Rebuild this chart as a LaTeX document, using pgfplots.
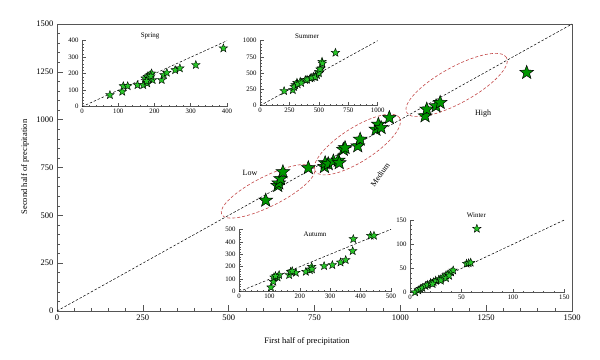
\documentclass[border=0pt]{standalone}
\usepackage{fontspec}
\setmainfont{Liberation Serif}
\usepackage{pgfplots}
\pgfplotsset{compat=1.18}
\definecolor{mainstar}{RGB}{0,150,0}
\definecolor{insetstar}{RGB}{40,200,40}
\definecolor{ell}{RGB}{195,70,70}
\definecolor{axgray}{RGB}{85,85,85}

\pgfdeclareplotmark{fstar}{%
  \pgfpathmoveto{\pgfpointpolar{90}{\pgfplotmarksize}}%
  \pgfpathlineto{\pgfpointpolar{126}{0.42\pgfplotmarksize}}%
  \pgfpathlineto{\pgfpointpolar{162}{\pgfplotmarksize}}%
  \pgfpathlineto{\pgfpointpolar{198}{0.42\pgfplotmarksize}}%
  \pgfpathlineto{\pgfpointpolar{234}{\pgfplotmarksize}}%
  \pgfpathlineto{\pgfpointpolar{270}{0.42\pgfplotmarksize}}%
  \pgfpathlineto{\pgfpointpolar{306}{\pgfplotmarksize}}%
  \pgfpathlineto{\pgfpointpolar{342}{0.42\pgfplotmarksize}}%
  \pgfpathlineto{\pgfpointpolar{18}{\pgfplotmarksize}}%
  \pgfpathlineto{\pgfpointpolar{54}{0.42\pgfplotmarksize}}%
  \pgfpathclose
  \pgfusepathqfillstroke}

\pgfplotsset{
  base/.style={scale only axis, anchor=south west, clip=false,
    /pgf/number format/assume math mode=true,
    /pgf/number format/set thousands separator={},
    axis line style={axgray, line width=0.6pt, -},
    tick style={axgray, line width=0.5pt},
    tick align=inside},
  inset/.style={base, axis x line*=bottom, axis y line*=left,
    ticklabel style={font=\fontsize{6.8}{7}\selectfont},
    xticklabel style={yshift=1pt},
    major tick length=4pt, minor tick length=2pt,
    minor tick num=4},
  istar/.style={only marks, mark=fstar, mark size=4.4pt,
    mark options={fill=insetstar, draw=black, line width=0.4pt}},
  diag/.style={black, dashed, dash pattern=on 2.5pt off 1.8pt, line width=0.5pt},
}
\tikzset{ellstyle/.style={draw=ell, dash pattern=on 3pt off 2pt, line width=0.6pt}}

\begin{document}
\begin{tikzpicture}[x=1pt,y=1pt]
\path[use as bounding box] (0,0) rectangle (600,359);

% main axis
\begin{axis}[base, at={(57pt,48pt)}, width=515pt, height=287pt,
  xmin=0, xmax=1500, ymin=0, ymax=1500,
  xtick={0,250,...,1500}, ytick={0,250,...,1500}, minor tick num=4,
  tick pos=left, major tick length=6pt, minor tick length=3pt,
  ticklabel style={font=\fontsize{8.5}{9}\selectfont}]
\addplot[diag] coordinates {(0,0) (1500,1500)};
\addplot[only marks, mark=fstar, mark size=7.2pt,
  mark options={fill=mainstar, draw=black, line width=0.5pt}] coordinates {
(608,578) (643,655) (646,668) (651,691) (658,727) (732,748)
(779,754) (781,774) (790,769) (805,783) (819,787) (822,774)
(834,844) (839,853) (876,862) (883,897) (929,949) (936,975)
(944,958) (968,1010) (1072,1019) (1077,1054) (1104,1071) (1116,1089)
(1368,1246)};
\draw[ellstyle, rotate around={26.6:(axis cs:615,626)}]
  (axis cs:615,626) ellipse [x radius=52pt, y radius=15pt];
\draw[ellstyle, rotate around={32.4:(axis cs:875,870)}]
  (axis cs:875,870) ellipse [x radius=50pt, y radius=17pt];
\draw[ellstyle, rotate around={28.8:(axis cs:1164,1181)}]
  (axis cs:1164,1181) ellipse [x radius=57pt, y radius=18pt];
\node[font=\fontsize{8}{9}\selectfont] at (axis cs:562,724) {Low};
\node[font=\fontsize{8}{9}\selectfont, rotate=55] at (axis cs:941,713) {Medium};
\node[font=\fontsize{8}{9}\selectfont] at (axis cs:1241,1033) {High};
\end{axis}

\node[font=\fontsize{8.5}{9}\selectfont] at (307,18) {First half of precipitation};
\node[font=\fontsize{8.5}{9}\selectfont, rotate=90] at (25,192) {Second half of precipitation};

% Spring
\begin{axis}[inset, at={(82pt,252.3pt)}, width=145pt, height=66pt,
  xmin=0, xmax=400, ymin=0, ymax=400,
  xtick={0,100,...,400}, ytick={0,100,...,400}]
\addplot[diag] coordinates {(0,0) (400,400)};
\addplot[istar] coordinates {
(77,71) (111,91) (114,125) (126,125) (153,131) (169,131) (180,142)
(174,172) (180,182) (188,192) (192,202) (195,162) (220,162) (226,192)
(234,206) (257,222) (270,233) (314,253) (390,354) (185,170) (190,185) (178,155)};
\node[font=\fontsize{7}{8}\selectfont] at (rel axis cs:0.47,1.07) {Spring};
\end{axis}

% Summer
\begin{axis}[inset, at={(260pt,253.3pt)}, width=117.7pt, height=65pt,
  xmin=0, xmax=1000, ymin=0, ymax=1000,
  xtick={0,250,...,1000}, ytick={0,250,...,1000}]
\addplot[diag] coordinates {(0,0) (1000,1000)};
\addplot[istar] coordinates {
(205,226) (279,241) (299,318) (314,354) (342,369) (385,395) (427,422)
(456,446) (484,472) (499,523) (519,575) (527,677) (641,815)
(290,290) (320,330) (350,350) (400,400) (440,430) (470,440) (500,500)
(510,560) (530,650)};
\node[font=\fontsize{7}{8}\selectfont] at (rel axis cs:0.40,1.07) {Summer};
\end{axis}

% Autumn
\begin{axis}[inset, at={(239pt,67.3pt)}, width=152pt, height=62.4pt,
  xmin=0, xmax=500, ymin=0, ymax=500,
  xtick={0,100,...,500}, ytick={0,100,...,500}]
\addplot[diag] coordinates {(0,0) (500,500)};
\addplot[istar] coordinates {
(105,35) (113,80) (115,115) (127,115) (132,134) (165,134) (170,160)
(187,152) (220,160) (233,174) (239,200) (280,206) (307,214) (334,235)
(351,254) (374,326) (376,422) (433,449) (444,449) (120,125) (175,165) (240,180)};
\node[font=\fontsize{7}{8}\selectfont] at (rel axis cs:0.5,0.92) {Autumn};
\end{axis}

% Winter
\begin{axis}[inset, at={(410pt,66.3pt)}, width=154.3pt, height=72.7pt,
  xmin=0, xmax=150, ymin=0, ymax=150,
  xtick={0,50,...,150}, ytick={0,50,...,150}]
\addplot[diag] coordinates {(0,0) (150,150)};
\addplot[istar] coordinates {
(5,1) (8,5) (10,8) (12,10) (15,14) (17,16) (20,20) (23,22) (25,25)
(28,27) (30,28) (32,32) (35,36) (37,38) (40,42) (42,46) (22,18) (30,25)
(35,30) (38,35) (55,60) (57,61) (59,62) (65,132)};
\node[font=\fontsize{7}{8}\selectfont] at (rel axis cs:0.43,1.07) {Winter};
\end{axis}
\end{tikzpicture}
\end{document}
